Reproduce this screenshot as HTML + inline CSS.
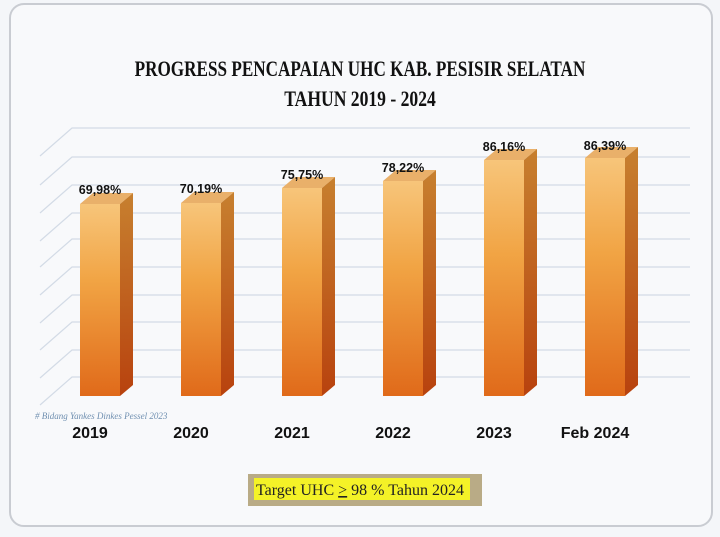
<!DOCTYPE html>
<html><head><meta charset="utf-8"><style>
body{margin:0;width:720px;height:532px;background:#f4f6f9;overflow:hidden;font-family:"Liberation Sans",sans-serif}
</style></head><body>
<svg width="720" height="532" viewBox="0 0 720 532" xmlns="http://www.w3.org/2000/svg">
<defs>
<linearGradient id="f" x1="0" y1="0" x2="0" y2="1"><stop offset="0" stop-color="#f7c57a"/><stop offset="0.4" stop-color="#f1a444"/><stop offset="1" stop-color="#e06a1a"/></linearGradient>
<linearGradient id="s" x1="0" y1="0" x2="0" y2="1"><stop offset="0" stop-color="#c7802f"/><stop offset="1" stop-color="#b8420e"/></linearGradient>
</defs>
<rect x="10" y="4" width="702" height="522" rx="14" fill="#f8f9fb" stroke="#c9ccd2" stroke-width="2"/>
<text x="360" y="76" text-anchor="middle" font-family="Liberation Serif" font-weight="bold" font-size="22" transform="translate(360 0) scale(0.78 1) translate(-360 0)" fill="#111">PROGRESS PENCAPAIAN UHC KAB. PESISIR SELATAN</text>
<text x="360" y="106" text-anchor="middle" font-family="Liberation Serif" font-weight="bold" font-size="22" transform="translate(360 0) scale(0.8 1) translate(-360 0)" fill="#111">TAHUN 2019 -  2024</text>
<g stroke="#d3dbe6" stroke-width="1.2" fill="none">
<path d="M40 156L72 128H690"/><path d="M40 185L72 157H690"/><path d="M40 213L72 185H690"/><path d="M40 241L72 213H690"/><path d="M40 267L72 239H690"/><path d="M40 295L72 267H690"/><path d="M40 323L72 295H690"/><path d="M40 350L72 322H690"/><path d="M40 378L72 350H690"/><path d="M40 405L72 377H690"/>
</g>
<g font-weight="bold" font-size="12.5" fill="#111" text-anchor="middle">
<g transform="translate(80,0)"><polygon points="0,204 13,193 53,193 40,204" fill="#e9b06a"/><rect x="0" y="204" width="40" height="192" fill="url(#f)"/><polygon points="40,204 53,193 53,385 40,396" fill="url(#s)"/><text x="20" y="194">69,98%</text></g>
<g transform="translate(181,0)"><polygon points="0,203 13,192 53,192 40,203" fill="#e9b06a"/><rect x="0" y="203" width="40" height="193" fill="url(#f)"/><polygon points="40,203 53,192 53,385 40,396" fill="url(#s)"/><text x="20" y="193">70,19%</text></g>
<g transform="translate(282,0)"><polygon points="0,188 13,177 53,177 40,188" fill="#e9b06a"/><rect x="0" y="188" width="40" height="208" fill="url(#f)"/><polygon points="40,188 53,177 53,385 40,396" fill="url(#s)"/><text x="20" y="179">75,75%</text></g>
<g transform="translate(383,0)"><polygon points="0,181 13,170 53,170 40,181" fill="#e9b06a"/><rect x="0" y="181" width="40" height="215" fill="url(#f)"/><polygon points="40,181 53,170 53,385 40,396" fill="url(#s)"/><text x="20" y="172">78,22%</text></g>
<g transform="translate(484,0)"><polygon points="0,160 13,149 53,149 40,160" fill="#e9b06a"/><rect x="0" y="160" width="40" height="236" fill="url(#f)"/><polygon points="40,160 53,149 53,385 40,396" fill="url(#s)"/><text x="20" y="151">86,16%</text></g>
<g transform="translate(585,0)"><polygon points="0,158 13,147 53,147 40,158" fill="#e9b06a"/><rect x="0" y="158" width="40" height="238" fill="url(#f)"/><polygon points="40,158 53,147 53,385 40,396" fill="url(#s)"/><text x="20" y="150">86,39%</text></g>
</g>
<text x="35" y="419" font-family="Liberation Serif" font-style="italic" font-size="9" fill="#6f8fb0"># Bidang Yankes Dinkes Pessel 2023</text>
<g font-weight="bold" font-size="16" fill="#111" text-anchor="middle">
<text x="90" y="438">2019</text><text x="191" y="438">2020</text><text x="292" y="438">2021</text><text x="393" y="438">2022</text><text x="494" y="438">2023</text><text x="595" y="438">Feb 2024</text>
</g>
<rect x="248" y="474" width="234" height="32" fill="#b9ab86"/>
<rect x="254" y="478" width="216" height="22" fill="#f4f227"/>
<text x="256" y="495" font-family="Liberation Serif" font-size="16" fill="#222">Target UHC <tspan text-decoration="underline">&gt;</tspan> 98 % Tahun 2024</text>
</svg>
</body></html>
